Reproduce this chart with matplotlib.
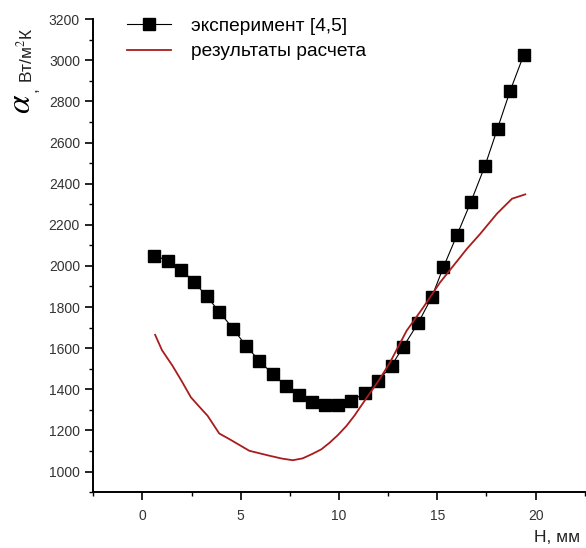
import matplotlib

matplotlib.use("Agg")
import matplotlib.pyplot as plt
from matplotlib.ticker import MultipleLocator

plt.rcParams["font.family"] = ["Liberation Sans", "DejaVu Sans"]
plt.rcParams["mathtext.fontset"] = "stix"

# experiment [4,5]
h_exp = [0.60, 1.31, 1.96, 2.62, 3.27, 3.91, 4.63, 5.28, 5.95, 6.63,
         7.28, 7.96, 8.61, 9.27, 9.95, 10.60, 11.33, 11.96, 12.67, 13.27,
         14.03, 14.71, 15.31, 15.99, 16.70, 17.42, 18.06, 18.70, 19.39]
alpha_exp = [2050, 2026, 1982, 1924, 1852, 1778, 1692, 1611, 1538, 1474,
             1417, 1372, 1336, 1323, 1323, 1344, 1380, 1438, 1515, 1607,
             1723, 1847, 1994, 2148, 2310, 2486, 2668, 2851, 3025]

# calculation results
h_calc = [0.65, 1.00, 1.53, 2.00, 2.47, 2.90, 3.32, 3.91, 4.42, 5.44,
          6.46, 7.10, 7.65, 8.15, 8.65, 9.10, 9.52, 9.95, 10.38, 10.80,
          11.20, 11.65, 12.07, 12.59, 13.44, 14.29, 15.14, 16.16, 16.50,
          17.18, 18.03, 18.80, 19.47]
alpha_calc = [1665, 1590, 1515, 1440, 1361, 1315, 1271, 1185, 1158, 1101,
              1077, 1063, 1055, 1064, 1086, 1108, 1140, 1178, 1222, 1274,
              1330, 1392, 1450, 1530, 1685, 1799, 1920, 2042, 2083,
              2156, 2254, 2327, 2348]

fig = plt.figure(figsize=(5.86, 5.48), dpi=100)
ax = fig.add_axes([0.159, 0.102, 0.839, 0.863])

ax.plot(h_exp, alpha_exp, color="black", lw=0.8, marker="s", ms=8.5,
        mec="black", mfc="black", label="эксперимент [4,5]")
ax.plot(h_calc, alpha_calc, color="#a81c1c", lw=1.3, label="результаты расчета")

ax.set_xlim(-2.5, 22.5)
ax.set_ylim(900, 3200)
ax.xaxis.set_major_locator(MultipleLocator(5))
ax.xaxis.set_minor_locator(MultipleLocator(2.5))
ax.yaxis.set_major_locator(MultipleLocator(200))
ax.yaxis.set_minor_locator(MultipleLocator(100))

for side in ("top", "right"):
    ax.spines[side].set_visible(False)
for side in ("left", "bottom"):
    ax.spines[side].set_linewidth(1.4)

ax.tick_params(which="major", direction="out", length=6, width=1.2,
               labelsize=10, labelcolor="#333333")
ax.tick_params(which="minor", direction="out", length=3, width=1.0)
ax.tick_params(axis="x", pad=6)

ax.legend(loc="upper left", bbox_to_anchor=(0.034, 1.04), frameon=False,
          fontsize=13.8, handlelength=2.3, handletextpad=1.05,
          labelspacing=0.42)

# y label: italic alpha, then the units
fig.text(0.0375, 0.810, r"$\alpha$", fontsize=24, rotation=90,
         ha="center", va="center")
fig.text(0.0545, 0.836, ",", fontsize=12.5, rotation=90,
         ha="center", va="center", color="#222222")
fig.text(0.044, 0.899, "Вт/м$^2$К", fontsize=12.5, rotation=90,
         ha="center", va="center", color="#222222")
fig.text(0.99, 0.005, "H, мм", fontsize=12.5, ha="right", va="bottom",
         color="#222222")

fig.savefig("out.png", dpi=100)
